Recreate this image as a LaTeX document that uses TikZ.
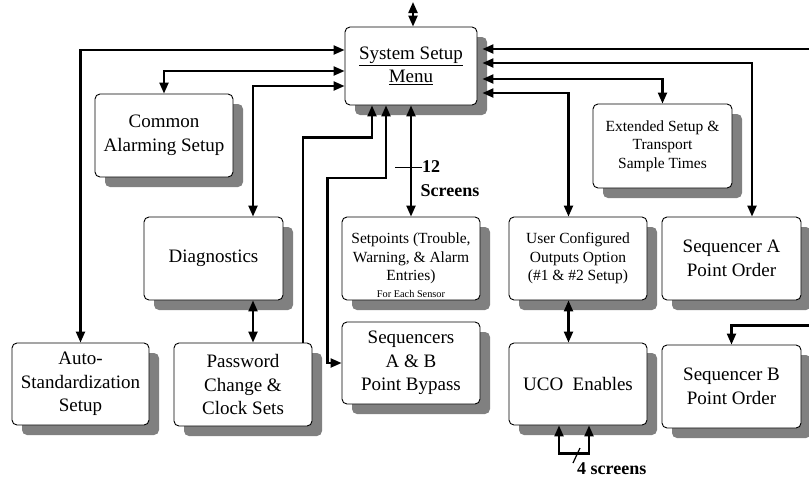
\documentclass[tikz,border=0pt]{standalone}
\usepackage{fontspec}
\setmainfont{Liberation Serif}
\usetikzlibrary{arrows.meta,shadows}
\definecolor{shadowgray}{RGB}{128,128,128}
\tikzset{
  menubox/.style={draw, fill=white, rounded corners=5pt, line width=0.9pt,
    inner sep=0pt, align=center,
    general shadow={fill=shadowgray, shadow xshift=10pt, shadow yshift=-10pt},
    font=\fontsize{19pt}{23.5pt}\selectfont},
  smalltext/.style={font=\fontsize{15.5pt}{18.5pt}\selectfont},
  tinytext/.style={font=\fontsize{10.3pt}{12pt}\selectfont, inner sep=0pt},
  countlabel/.style={font=\bfseries\fontsize{18pt}{21pt}\selectfont, inner sep=0pt},
  twoway/.style={line width=2.2pt,
    {Triangle[length=11pt 0,width=9pt 0]}-{Triangle[length=11pt 0,width=9pt 0]}},
  oneway/.style={line width=2.2pt, -{Triangle[length=11pt 0,width=9pt 0]}},
  tick/.style={line width=0.8pt}
}
\begin{document}
\begin{tikzpicture}[x=1pt,y=-1pt]
\useasboundingbox (0,0) rectangle (809,480);
\clip (0,0) rectangle (809,480);

% boxes
\node[menubox, minimum width=132pt, minimum height=78pt] (ssm) at (411,66)
  {\underline{System Setup}\\\underline{Menu}};
\node[menubox, minimum width=138pt, minimum height=83pt] (ca) at (164,135.5)
  {Common\\Alarming Setup};
\node[menubox, smalltext, minimum width=139pt, minimum height=84pt] (ext) at (662.5,146)
  {Extended Setup \&\\Transport\\Sample Times};
\node[menubox, minimum width=139pt, minimum height=83pt] (diag) at (213.5,258.5)
  {Diagnostics};
\node[menubox, smalltext, minimum width=138pt, minimum height=83pt] (sp) at (411,258.5)
  {Setpoints (Trouble,\\Warning, \& Alarm\\Entries)};
\node[tinytext, anchor=base] (fes) at ([yshift=2.5pt]sp.south) {For Each Sensor};
\node[menubox, smalltext, minimum width=138pt, minimum height=83pt] (uc) at (578,258.5)
  {User Configured\\Outputs Option\\(\#1 \& \#2 Setup)};
\node[menubox, minimum width=139pt, minimum height=83pt] (sa) at (731.5,258.5)
  {Sequencer A\\Point Order};
\node[menubox, minimum width=137pt, minimum height=82pt] (auto) at (80.5,384)
  {Auto-\\Standardization\\Setup};
\node[menubox, minimum width=138pt, minimum height=83pt] (pw) at (243,384.5)
  {Password\\Change \&\\Clock Sets};
\node[menubox, minimum width=138pt, minimum height=82pt] (sab) at (411,363)
  {Sequencers\\A \& B\\Point Bypass};
\node[menubox, minimum width=138pt, minimum height=82pt] (uco) at (578,384)
  {UCO~ Enables};
\node[menubox, minimum width=139pt, minimum height=83pt] (sb) at (731.5,386.5)
  {Sequencer B\\Point Order};

% connector above the menu
\coordinate (up) at (413,2);
\draw[twoway] (up) -- (up |- ssm.north);

% left side of the menu
\draw[twoway] (auto.north) |- ([yshift=16pt]ssm.west);
\draw[twoway] (ca.north) |- ([yshift=-5pt]ssm.west);
\draw[twoway] ([xshift=39.5pt]diag.north) |- ([yshift=-20pt]ssm.west);
\draw[twoway] ([xshift=39.5pt]diag.south) -- ([xshift=39.5pt]diag.south |- pw.north);

% from below the menu
\draw[oneway] ([xshift=60pt]pw.north) -- ++(0,-205) -| ([xshift=-39pt]ssm.south);
\draw[twoway] (sab.west) -- ++(-14,0) -- ++(0,-185) -| ([xshift=-25pt]ssm.south);
\draw[twoway] (ssm.south) -- (sp.north);
\node[countlabel, anchor=west] (n12) at (422,167) {12};
\draw[tick] (n12.west) -- ++(-27,0);
\node[countlabel] (scr) at (450,191) {Screens};

% right side of the menu
\draw[twoway] (sb.north) -- ++(0,-19) -- ++(90,0) |- ([xshift=5pt,yshift=17pt]ssm.east);
\draw[twoway] ([xshift=20.5pt]sa.north) |- ([xshift=5pt,yshift=3pt]ssm.east);
\draw[twoway] (ext.north) |- ([xshift=5pt,yshift=-13pt]ssm.east);
\draw[twoway] ([xshift=-9.5pt]uc.north) |- ([xshift=5pt,yshift=-27pt]ssm.east);
\draw[twoway] ([xshift=-9.5pt]uc.south) -- ([xshift=-9.5pt]uco.north);

% loop under the enables box
\draw[twoway] ([xshift=-19pt]uco.south) -- ++(0,28) -| ([xshift=11pt]uco.south);
\node[countlabel, anchor=base west] (n4) at (577,474) {4 screens};
\draw[line width=1.2pt] ([xshift=-4pt,yshift=11pt]n4.base west) -- ++(7,-15);
\end{tikzpicture}
\end{document}
